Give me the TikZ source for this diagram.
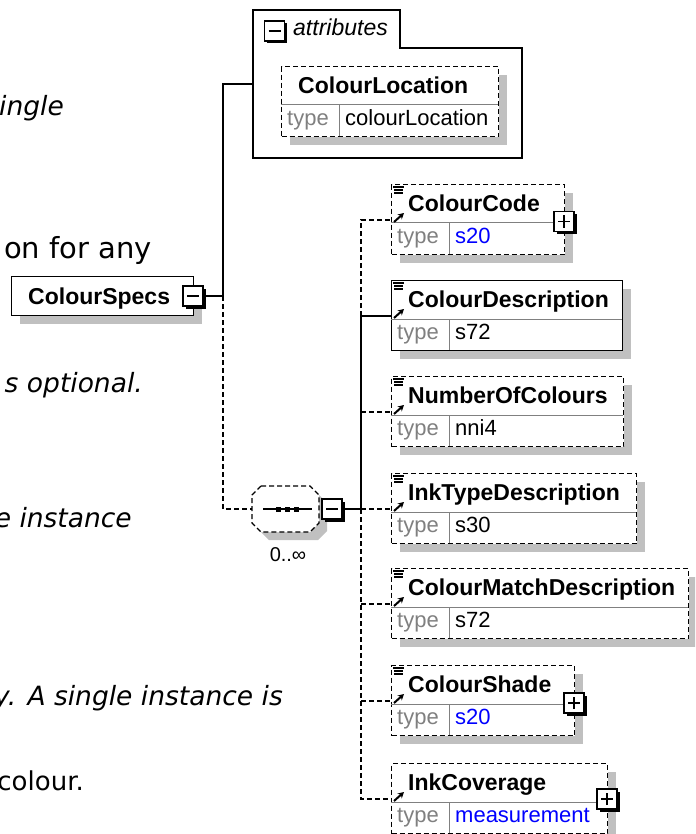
\documentclass[tikz,border=0pt]{standalone}
\usepackage{fontspec}
\setmainfont{DejaVu Sans}
\newfontfamily\xsdfont{Liberation Sans}
\usetikzlibrary{shapes.misc, shadows, arrows.meta}
\definecolor{shadowgray}{HTML}{C0C0C0}
\definecolor{rulegray}{HTML}{808080}
\definecolor{typeblue}{HTML}{0000FF}

% one schema element: name row + type row
\newcommand{\elembox}[8][opt]{%
  \node[elem, #1, minimum width=#5pt] (#2) at (#3,#4) {};
  \draw[rule] (#3,#4+39) -- (#3+#5,#4+39);
  \draw[rule] (#3+58,#4+39) -- (#3+58,#4+70);
  \node[title] (#2-name) at (#3+17,#4+27.5) {#6};
  \node[typelbl] (#2-type) at (#3+6,#4+59.5) {type};
  \node[typeval, text=#8] (#2-val) at (#3+64,#4+59.5) {#7};
  \coordinate (#2-in) at (#3,#4+36);
}

\begin{document}
\begin{tikzpicture}[x=1pt, y=-1pt,
  elem/.style={draw, fill=white, anchor=north west, minimum height=70pt, inner sep=0pt, line width=1.2pt,
    drop shadow={shadow xshift=8pt, shadow yshift=-8pt, fill=shadowgray, opacity=1}},
  opt/.style={dash pattern=on 5pt off 3pt},
  rule/.style={draw=rulegray, line width=1pt},
  title/.style={anchor=base west, inner sep=0pt, font=\xsdfont\bfseries\fontsize{23}{27}\selectfont},
  typelbl/.style={anchor=base west, inner sep=0pt, text=rulegray, font=\xsdfont\fontsize{22}{26}\selectfont},
  typeval/.style={anchor=base west, inner sep=0pt, font=\xsdfont\fontsize{22}{26}\selectfont},
  link/.style={draw, line width=1.2pt},
  toggle/.style={draw, fill=white, minimum size=20pt, inner sep=0pt, line width=1.2pt,
    drop shadow={shadow xshift=2.5pt, shadow yshift=-2.5pt, fill=black, opacity=1}},
  collapsebox/.style={toggle, path picture={\draw[line width=1.3pt] ([xshift=-6pt]path picture bounding box.center) -- ([xshift=6pt]path picture bounding box.center);}},
  expandbox/.style={toggle, path picture={\draw[line width=1.3pt] ([xshift=-6pt]path picture bounding box.center) -- ([xshift=6pt]path picture bounding box.center)
    ([yshift=-6pt]path picture bounding box.center) -- ([yshift=6pt]path picture bounding box.center);}},
  docicon/.style={line width=1.2pt},
  refarrow/.style={-{Stealth[length=6pt, width=6.5pt]}, line width=2pt},
  body/.style={anchor=base east, inner sep=0pt, font=\fontsize{29}{34}\selectfont},
  bodyit/.style={body, font=\itshape\fontsize{26.5}{32}\selectfont}
]
  \useasboundingbox (0,0) rectangle (695,834);
  \clip (0,0) rectangle (695,834);

  % page text behind the diagram
  \node[bodyit] (txt1) at (64,116) {ingle};
  \node[body] (txt2) at (152,258) {on for any};
  \node[bodyit] (txt3) at (143,392) {s optional.};
  \node[bodyit] (txt4) at (132,527) {e instance};
  \node[bodyit] (txt5) at (283,705) {y. A single instance is};
  \node[body, font=\fontsize{26}{31}\selectfont] (txt6) at (84,790) {colour.};

  % root element
  \node[elem, minimum width=182pt, minimum height=39pt] (specs) at (11,276) {};
  \node[title] (specs-name) at (28,304) {ColourSpecs};
  \node[collapsebox] (specs-tog) at (193,296) {};

  % attributes
  \draw[line width=1.2pt] (253,158) -- (253,10) -- (400,10) -- (400,48) -- (522,48) -- (522,158) -- cycle;
  \node[collapsebox] (attr-tog) at (274.5,31) {};
  \node[anchor=base west, inner sep=0pt, font=\xsdfont\itshape\fontsize{23}{27}\selectfont] (attr-name) at (293,36) {attributes};
  \coordinate (attr-in) at (253,84);
  \elembox{loc}{281}{66}{217}{ColourLocation}{colourLocation}{black}

  % sequence compositor
  \fill[shadowgray, shift={(8,8)}] (261,486) -- (310,486) -- (319,495) -- (319,523) -- (310,532) -- (261,532) -- (252,523) -- (252,495) -- cycle;
  \node[inner sep=0pt, minimum width=67pt, minimum height=46pt] (seq) at (285.5,509) {};
  \draw[opt, line width=1.1pt, fill=white] (261,486) -- (310,486) -- (319,495) -- (319,523) -- (310,532) -- (261,532) -- (252,523) -- (252,495) -- cycle;
  \draw[line width=1.2pt] (263,509) -- (312,509);
  \foreach \x in {278,287,296} \fill (\x-2.5,506.5) rectangle ++(5,5);
  \node[collapsebox] (seq-tog) at (332,509) {};
  \node[inner sep=0pt, font=\xsdfont\fontsize{20}{24}\selectfont] (card) at (288,555) {0..∞};

  % children
  \elembox{code}{391}{184}{173}{ColourCode}{s20}{typeblue}
  \elembox[solid]{desc}{391}{280}{231}{ColourDescription}{s72}{black}
  \elembox{num}{391}{376}{232}{NumberOfColours}{nni4}{black}
  \elembox{ink}{391}{473}{245}{InkTypeDescription}{s30}{black}
  \elembox{match}{391}{568}{297}{ColourMatchDescription}{s72}{black}
  \elembox{shade}{391}{665}{183}{ColourShade}{s20}{typeblue}
  \elembox{cover}{391}{763}{216}{InkCoverage}{measurement}{typeblue}
  \node[expandbox] (code-tog) at (564,221.5) {};
  \node[expandbox] (shade-tog) at (574,703) {};
  \node[expandbox] (cover-tog) at (607,799) {};

  \foreach \n in {code,desc,num,ink,match,shade}
    \draw[docicon] ([xshift=2pt,yshift=-3pt]\n.north west) -- ++(11,0) ++(-10,3) -- ++(9,0) ++(-9,3) -- ++(9,0);
  \foreach \n in {code,desc,num,ink,match,shade,cover}
    \draw[refarrow] ([xshift=3pt,yshift=-38pt]\n.north west) -- ++(10,-9);

  % connectors
  \coordinate (fork) at (223,296);
  \coordinate (bus) at (361,509);
  \draw[link] (specs-tog) -- (fork) |- (attr-in);
  \draw[link, opt] (fork) |- (seq.west);
  \draw[link] (seq-tog) -- (bus) |- (desc-in);
  \draw[link, opt] (desc-in -| bus) |- (code-in);
  \draw[link, opt] (num-in -| bus) -- (num-in);
  \draw[link, opt] (bus) -- (ink-in);
  \draw[link, opt] (match-in -| bus) -- (match-in);
  \draw[link, opt] (shade-in -| bus) -- (shade-in);
  \draw[link, opt] (bus) |- (cover-in);
\end{tikzpicture}
\end{document}
